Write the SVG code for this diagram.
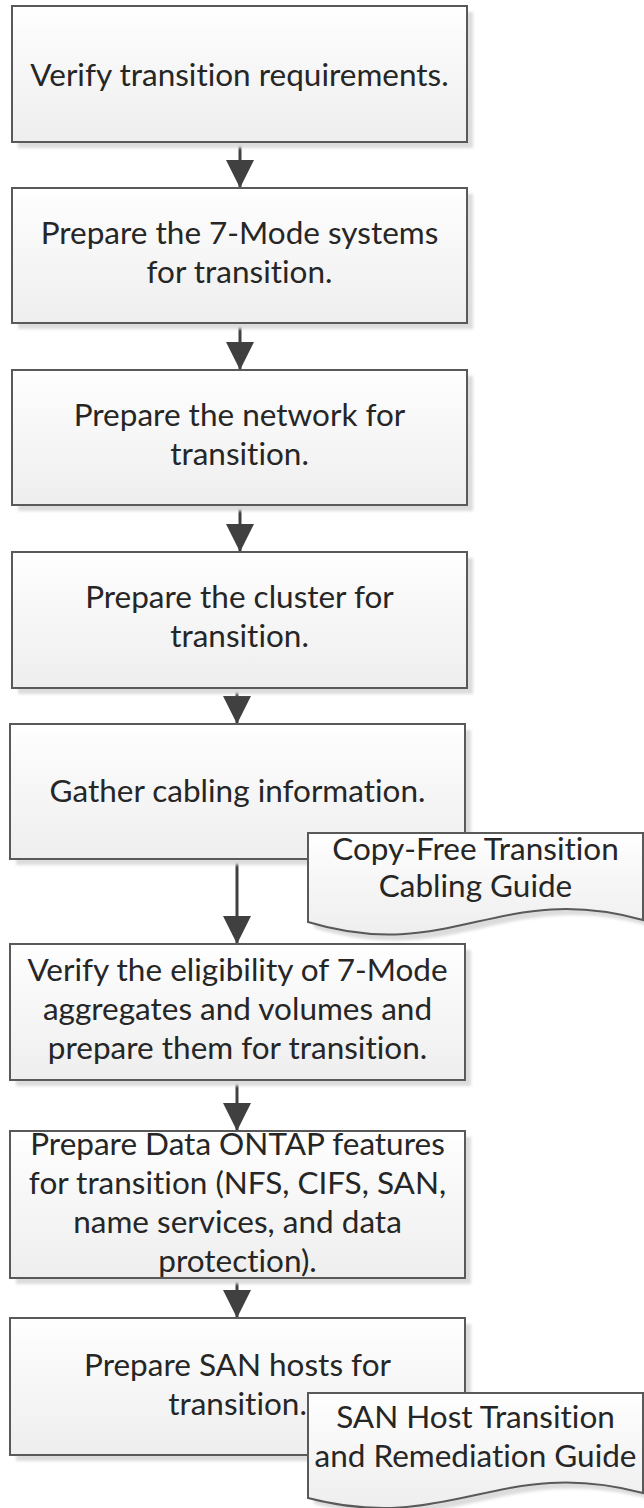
<svg xmlns="http://www.w3.org/2000/svg" width="644" height="1508" viewBox="0 0 644 1508">
<defs>
<linearGradient id="fillG" x1="0" y1="0" x2="0" y2="1">
<stop offset="0" stop-color="#ffffff"/>
<stop offset="0.2" stop-color="#fbfbfb"/>
<stop offset="1" stop-color="#eeeeee"/>
</linearGradient>
<filter id="blur" x="-5%" y="-5%" width="110%" height="110%"><feGaussianBlur stdDeviation="1.5"/></filter>
<marker id="ah" markerUnits="userSpaceOnUse" markerWidth="28" markerHeight="28" refX="28" refY="14" orient="auto" viewBox="0 0 28 28">
<path d="M0,0 L28,14 L0,28 Z" fill="#404040"/>
</marker>
<style>
.box{fill:url(#fillG);stroke:#595959;stroke-width:2}
.sh{fill:#dcdcdc;filter:url(#blur)}
.t{font-family:Lato,"Liberation Sans",sans-serif;font-size:31.5px;fill:#262626;text-anchor:middle;font-variant-ligatures:none;font-feature-settings:"liga" 0,"clig" 0}
.c{stroke:#404040;stroke-width:3;fill:none;marker-end:url(#ah)}
</style>
</defs>

<g id="connectors">
<line class="c" x1="240" y1="142" x2="240" y2="188"/>
<line class="c" x1="240" y1="323" x2="240" y2="370"/>
<line class="c" x1="240" y1="505" x2="240" y2="552"/>
<line class="c" x1="237" y1="688" x2="237" y2="724"/>
<line class="c" x1="237" y1="859" x2="237" y2="944"/>
<line class="c" x1="237" y1="1080" x2="237" y2="1131"/>
<line class="c" x1="237" y1="1278" x2="237" y2="1318"/>
</g>

<g id="n1">
<rect class="sh" x="18" y="12" width="455" height="136"/>
<rect class="box" x="12" y="6" width="455" height="136"/>
<text class="t" x="239.5" y="86">Verify transition requirements.</text>
</g>

<g id="n2">
<rect class="sh" x="18" y="194" width="455" height="135"/>
<rect class="box" x="12" y="188" width="455" height="135"/>
<text class="t" x="239.5" y="244">Prepare the 7-Mode systems</text>
<text class="t" x="239.5" y="283">for transition.</text>
</g>

<g id="n3">
<rect class="sh" x="18" y="376" width="455" height="135"/>
<rect class="box" x="12" y="370" width="455" height="135"/>
<text class="t" x="239.5" y="426">Prepare the network for</text>
<text class="t" x="239.5" y="465">transition.</text>
</g>

<g id="n4">
<rect class="sh" x="18" y="558" width="455" height="136"/>
<rect class="box" x="12" y="552" width="455" height="136"/>
<text class="t" x="239.5" y="608">Prepare the cluster for</text>
<text class="t" x="239.5" y="647">transition.</text>
</g>

<g id="n5">
<rect class="sh" x="16" y="730" width="455" height="135"/>
<rect class="box" x="10" y="724" width="455" height="135"/>
<text class="t" x="237.5" y="802">Gather cabling information.</text>
</g>

<g id="d1">
<path class="sh" d="M314,839 L649,839 L649,926 C506,886 456,971 314,928 Z"/>
<path class="box" d="M308,833 L643,833 L643,920 C500,880 450,965 308,922 Z"/>
<text class="t" x="475.5" y="860">Copy-Free Transition</text>
<text class="t" x="475.5" y="897">Cabling Guide</text>
</g>

<g id="n6">
<rect class="sh" x="16" y="950" width="455" height="136"/>
<rect class="box" x="10" y="944" width="455" height="136"/>
<text class="t" x="237.5" y="981">Verify the eligibility of 7-Mode</text>
<text class="t" x="237.5" y="1020">aggregates and volumes and</text>
<text class="t" x="237.5" y="1059">prepare them for transition.</text>
</g>

<g id="n7">
<rect class="sh" x="16" y="1137" width="455" height="147"/>
<rect class="box" x="10" y="1131" width="455" height="147"/>
<text class="t" x="237.5" y="1155">Prepare Data ONTAP features</text>
<text class="t" x="237.5" y="1194">for transition (NFS, CIFS, SAN,</text>
<text class="t" x="237.5" y="1233">name services, and data</text>
<text class="t" x="237.5" y="1272">protection).</text>
</g>

<g id="n8">
<rect class="sh" x="16" y="1324" width="455" height="137"/>
<rect class="box" x="10" y="1318" width="455" height="137"/>
<text class="t" x="237.5" y="1376">Prepare SAN hosts for</text>
<text class="t" x="237.5" y="1415">transition.</text>
</g>

<g id="d2">
<path class="sh" d="M314,1399 L649,1399 L649,1499 C506,1461 456,1541 314,1504 Z"/>
<path class="box" d="M308,1393 L643,1393 L643,1493 C500,1455 450,1535 308,1498 Z"/>
<text class="t" x="475.5" y="1428">SAN Host Transition</text>
<text class="t" x="475.5" y="1467">and Remediation Guide</text>
</g>
</svg>
